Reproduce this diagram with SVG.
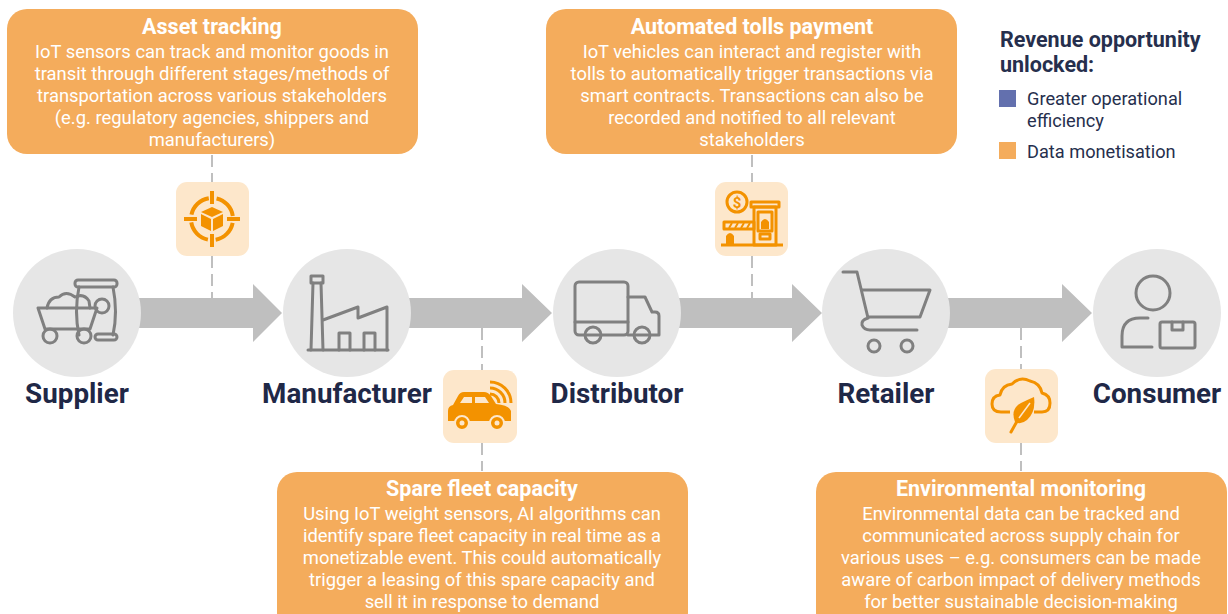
<svg xmlns="http://www.w3.org/2000/svg" width="1228" height="614" viewBox="0 0 1228 614">
<defs>
<style>
.box{fill:#F4AC5C}
.ttl{font-family:Roboto,"Liberation Sans",sans-serif;font-weight:700;font-size:21.5px;fill:#fff;text-anchor:middle}
.bdy{font-family:Roboto,"Liberation Sans",sans-serif;font-size:18.4px;fill:#fff;text-anchor:middle}
.node{fill:#E6E6E6}
.lbl{font-family:Roboto,"Liberation Sans",sans-serif;font-weight:700;font-size:27.8px;fill:#1F2847;text-anchor:middle}
.ico{fill:none;stroke:#808080;stroke-width:3;stroke-linejoin:round;stroke-linecap:round}
.icb{fill:#FDE7CB}
.oi{fill:none;stroke:#F39200;stroke-width:3;stroke-linejoin:round}
.of{fill:#F39200}
.arrow{fill:#BFBFBF}
.dash{stroke:#BFBFBF;stroke-width:2;stroke-dasharray:12 6;fill:none}
.leg{font-family:Roboto,"Liberation Sans",sans-serif;font-size:18.2px;fill:#262F4D}
.legt{font-family:Roboto,"Liberation Sans",sans-serif;font-weight:700;font-size:21.5px;fill:#262F4D}
</style>
</defs>
<rect width="1228" height="614" fill="#fff"/>

<g id="connectors">
<path class="arrow" d="M135,298 H253 V284 L282,313 L253,342 V328 H135 Z"/>
<path class="arrow" d="M405,298 H522 V284 L552,313 L522,342 V328 H405 Z"/>
<path class="arrow" d="M675,298 H792 V284 L822,313 L792,342 V328 H675 Z"/>
<path class="arrow" d="M945,298 H1062 V284 L1092,313 L1062,342 V328 H945 Z"/>
<line class="dash" x1="212" y1="155" x2="212" y2="182"/>
<line class="dash" x1="212" y1="256" x2="212" y2="298"/>
<line class="dash" x1="752" y1="155" x2="752" y2="182"/>
<line class="dash" x1="752" y1="256" x2="752" y2="298"/>
<line class="dash" x1="482" y1="328" x2="482" y2="370"/>
<line class="dash" x1="482" y1="443" x2="482" y2="471"/>
<line class="dash" x1="1021" y1="328" x2="1021" y2="369"/>
<line class="dash" x1="1021" y1="443" x2="1021" y2="471"/>
</g>

<g id="supplier">
<circle class="node" cx="77" cy="313" r="64"/>
<rect class="ico" x="75" y="280" width="42" height="7" rx="3"/>
<path class="ico" d="M79,287 Q74,312 79,335 M113,287 Q118,312 113,335"/>
<rect class="ico" x="95" y="334" width="22" height="6" rx="3"/>
<circle class="ico" cx="102" cy="306" r="7" fill="#E6E6E6"/>
<path class="ico" d="M47,308 Q49,297 59,297 Q66,290 75,297 Q84,293 89,301 L90,308" fill="#E6E6E6"/>
<path class="ico" d="M38,308 H97 L90,329 H45 Z" fill="#E6E6E6"/>
<circle class="ico" cx="50" cy="336" r="7" fill="#E6E6E6"/>
<circle class="ico" cx="84" cy="336" r="7" fill="#E6E6E6"/>
<text class="lbl" x="77" y="403">Supplier</text>
</g>

<g id="manufacturer">
<circle class="node" cx="347" cy="313" r="64"/>
<rect class="ico" x="311" y="276" width="12" height="7"/>
<path class="ico" d="M311,350 L313,283 M321,283 L323,350"/>
<path class="ico" d="M323,320 L358,307 V318 L387,307 V350"/>
<line class="ico" x1="308" y1="350" x2="388" y2="350"/>
<path class="ico" d="M339,350 V333 H350 V350 M364,350 V333 H375 V350"/>
<text class="lbl" x="347" y="403">Manufacturer</text>
</g>

<g id="distributor">
<circle class="node" cx="617" cy="313" r="64"/>
<rect class="ico" x="575" y="282" width="53" height="53" rx="4"/>
<line class="ico" x1="575" y1="322" x2="628" y2="322"/>
<path class="ico" d="M628,297 H645 L652,312 H655 Q659,312 659,316 V335 H628"/>
<circle class="ico" cx="593" cy="335" r="8" fill="#E6E6E6"/>
<circle class="ico" cx="642" cy="335" r="8" fill="#E6E6E6"/>
<text class="lbl" x="617" y="403">Distributor</text>
</g>

<g id="retailer">
<circle class="node" cx="886" cy="313" r="64"/>
<path class="ico" d="M843,272 H857 L868,318 Q861,320 862,325 Q864,330 870,330 H917"/>
<path class="ico" d="M862,290 H930 L920,317 H868"/>
<circle class="ico" cx="874" cy="346" r="6"/>
<circle class="ico" cx="907" cy="346" r="6"/>
<text class="lbl" x="886" y="403">Retailer</text>
</g>

<g id="consumer">
<circle class="node" cx="1157" cy="313" r="64"/>
<circle class="ico" cx="1153" cy="293" r="17"/>
<path class="ico" d="M1148,318 H1140 Q1122,318 1122,336 V347 H1152"/>
<rect class="ico" x="1160" y="322" width="35" height="26" rx="2"/>
<path class="ico" d="M1172,322 V330 H1183 V322"/>
<text class="lbl" x="1157" y="403">Consumer</text>
</g>

<g id="asset-tracking">
<rect class="box" x="7" y="9" width="411" height="145" rx="20"/>
<text class="ttl" x="212" y="34">Asset tracking</text>
<text class="bdy" x="212" y="58">IoT sensors can track and monitor goods in</text>
<text class="bdy" x="212" y="80">transit through different stages/methods of</text>
<text class="bdy" x="212" y="102">transportation across various stakeholders</text>
<text class="bdy" x="212" y="124">(e.g. regulatory agencies, shippers and</text>
<text class="bdy" x="212" y="146">manufacturers)</text>
<rect class="icb" x="176" y="182" width="73" height="74" rx="11"/>
<circle cx="212" cy="219" r="21" fill="none" stroke="#F39200" stroke-width="4" stroke-dasharray="0 4 25 4"/>
<path stroke="#F39200" stroke-width="4" d="M212,191 V204 M212,234 V247 M184,219 H197 M227,219 H240"/>
<polygon class="of" points="212,207 223,212 212,217 201,212"/>
<polygon class="of" points="201,214 211,219 211,231 201,226"/>
<polygon class="of" points="213,219 223,214 223,226 213,231"/>
</g>

<g id="automated-tolls">
<rect class="box" x="546" y="9" width="411" height="145" rx="20"/>
<text class="ttl" x="752" y="34">Automated tolls payment</text>
<text class="bdy" x="752" y="58">IoT vehicles can interact and register with</text>
<text class="bdy" x="752" y="80">tolls to automatically trigger transactions via</text>
<text class="bdy" x="752" y="102">smart contracts. Transactions can also be</text>
<text class="bdy" x="752" y="124">recorded and notified to all relevant</text>
<text class="bdy" x="752" y="146">stakeholders</text>
<rect class="icb" x="715" y="182" width="73" height="74" rx="11"/>
<circle class="oi" cx="737" cy="202" r="10"/>
<text x="737" y="208" font-family="Roboto,'Liberation Sans',sans-serif" font-weight="700" font-size="15" fill="#F39200" text-anchor="middle">$</text>
<rect class="oi" x="751" y="202" width="28" height="5"/>
<rect class="oi" x="754" y="207" width="22" height="38"/>
<rect class="oi" x="758" y="212" width="14" height="19" stroke-width="2"/>
<path class="of" d="M761,229 V222 Q765,216 769,222 V229 Z"/>
<rect class="oi" x="760" y="234" width="10" height="5" stroke-width="2"/>
<rect class="oi" x="724" y="222" width="30" height="7" stroke-width="2.5"/>
<path stroke="#F39200" stroke-width="2" d="M729,228 L732,223 M735,228 L738,223 M741,228 L744,223 M747,228 L750,223"/>
<path class="of" d="M726,245 V236 Q730,230 734,236 V245 Z"/>
<line x1="721" y1="245" x2="783" y2="245" stroke="#F39200" stroke-width="3"/>
</g>

<g id="spare-fleet">
<rect class="box" x="277" y="472" width="411" height="160" rx="20"/>
<text class="ttl" x="482" y="496">Spare fleet capacity</text>
<text class="bdy" x="482" y="520">Using IoT weight sensors, AI algorithms can</text>
<text class="bdy" x="482" y="542">identify spare fleet capacity in real time as a</text>
<text class="bdy" x="482" y="564">monetizable event. This could automatically</text>
<text class="bdy" x="482" y="586">trigger a leasing of this spare capacity and</text>
<text class="bdy" x="482" y="608">sell it in response to demand</text>
<rect class="icb" x="443" y="370" width="74" height="73" rx="11"/>
<path class="of" d="M448,421 V411 Q448,406 453,405 L458,396 Q460,392 464,392 H484 Q488,392 491,396 L496,404 Q509,405 511,411 V421 Z"/>
<path class="icb" d="M460,403 L464,397 H472 V403 Z M475,397 H485 L489,403 H475 Z"/>
<circle class="of" cx="462" cy="423" r="7" stroke="#FDE7CB" stroke-width="2"/>
<circle class="of" cx="497" cy="423" r="7" stroke="#FDE7CB" stroke-width="2"/>
<circle class="icb" cx="462" cy="423" r="2.5"/>
<circle class="icb" cx="497" cy="423" r="2.5"/>
<path fill="none" stroke="#F39200" stroke-width="3" d="M490,394 A9,9 0 0 1 499,403 M490,388 A15,15 0 0 1 505,403 M490,382 A21,21 0 0 1 511,403"/>
</g>

<g id="environmental">
<rect class="box" x="816" y="472" width="411" height="160" rx="20"/>
<text class="ttl" x="1021" y="496">Environmental monitoring</text>
<text class="bdy" x="1021" y="520">Environmental data can be tracked and</text>
<text class="bdy" x="1021" y="542">communicated across supply chain for</text>
<text class="bdy" x="1021" y="564">various uses – e.g. consumers can be made</text>
<text class="bdy" x="1021" y="586">aware of carbon impact of delivery methods</text>
<text class="bdy" x="1021" y="608">for better sustainable decision-making</text>
<rect class="icb" x="985" y="369" width="73" height="74" rx="11"/>
<path class="oi" d="M1010,412 H1001 Q992,412 992,404 Q992,396 1000,395 Q1002,385 1012,384 Q1020,376 1030,381 Q1040,383 1042,393 Q1050,395 1050,403 Q1050,412 1042,412 H1034"/>
<path class="of" d="M1015,422 Q1010,409 1021,403 Q1027,400 1034,397 Q1036,412 1027,420 Q1021,425 1015,422 Z"/>
<path fill="none" stroke="#F39200" stroke-width="3" stroke-linecap="round" d="M1011,432 L1020,416"/>
<path fill="none" stroke="#FDE7CB" stroke-width="1.5" d="M1019,418 L1030,403"/>
</g>

<g id="legend">
<text class="legt" x="1000" y="47">Revenue opportunity</text>
<text class="legt" x="1000" y="72">unlocked:</text>
<rect x="999" y="90" width="17" height="17" fill="#6370AE"/>
<text class="leg" x="1027" y="105">Greater operational</text>
<text class="leg" x="1027" y="127">efficiency</text>
<rect x="999" y="142" width="17" height="17" fill="#F4AC5C"/>
<text class="leg" x="1027" y="158">Data monetisation</text>
</g>
</svg>
